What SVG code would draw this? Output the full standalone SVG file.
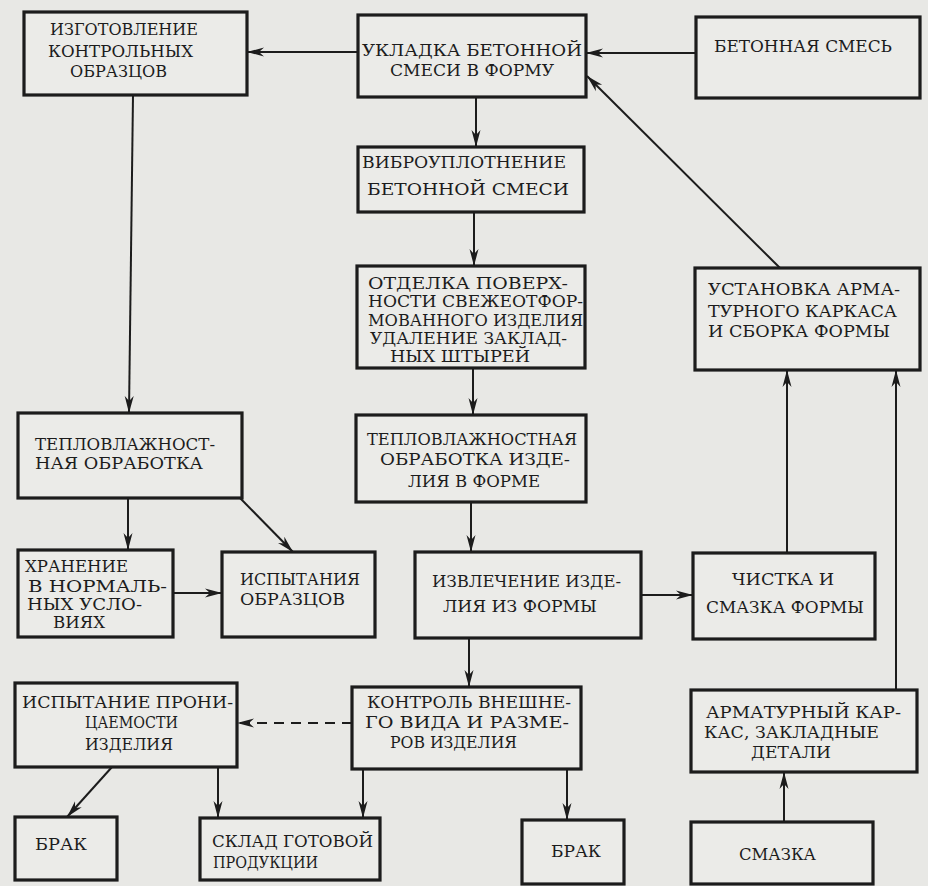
<svg xmlns="http://www.w3.org/2000/svg" width="928" height="886" viewBox="0 0 928 886">
<style>
.bg{fill:#e8e8e5}
.box{fill:#ebebe8;stroke:#1c1c1c;stroke-width:3.2}
.t{font-family:"DejaVu Serif","Liberation Serif",serif;font-size:16px;fill:#1c1c1c}
.c{fill:none;stroke:#1c1c1c;stroke-width:2}
.d{stroke-dasharray:10 7}
</style>
<defs>
<marker id="ah" markerUnits="userSpaceOnUse" markerWidth="18" markerHeight="10" refX="17" refY="5" orient="auto">
<path d="M0,0.5 L17,5 L0,9.5 L5,5 Z" fill="#1c1c1c"/>
</marker>
</defs>
<rect class="bg" x="0" y="0" width="928" height="886"/>
<g id="connectors">
<path class="c" d="M358,52 L247,52" marker-end="url(#ah)"/>
<path class="c" d="M696,53 L586,53" marker-end="url(#ah)"/>
<path class="c" d="M780,268 L587,76" marker-end="url(#ah)"/>
<path class="c" d="M476,97 L476,147" marker-end="url(#ah)"/>
<path class="c" d="M474,212 L474,266" marker-end="url(#ah)"/>
<path class="c" d="M473,368 L473,415" marker-end="url(#ah)"/>
<path class="c" d="M471,502 L471,552" marker-end="url(#ah)"/>
<path class="c" d="M133,95 L129,413" marker-end="url(#ah)"/>
<path class="c" d="M128,498 L128,550" marker-end="url(#ah)"/>
<path class="c" d="M240,498 L293,552" marker-end="url(#ah)"/>
<path class="c" d="M173,593 L222,593" marker-end="url(#ah)"/>
<path class="c" d="M641,595 L693,595" marker-end="url(#ah)"/>
<path class="c" d="M787,553 L787,370" marker-end="url(#ah)"/>
<path class="c" d="M896,690 L896,370" marker-end="url(#ah)"/>
<path class="c" d="M469,638 L469,687" marker-end="url(#ah)"/>
<path class="c d" d="M352,723 L237,723" marker-end="url(#ah)"/>
<path class="c" d="M363,769 L363,818" marker-end="url(#ah)"/>
<path class="c" d="M567,769 L567,820" marker-end="url(#ah)"/>
<path class="c" d="M112,767 L67,817" marker-end="url(#ah)"/>
<path class="c" d="M218,767 L218,818" marker-end="url(#ah)"/>
<path class="c" d="M784,822 L784,772" marker-end="url(#ah)"/>
</g>
<g id="n1"><rect class="box" x="24" y="12" width="223" height="83"/>
<text class="t" x="50" y="35" textLength="148" lengthAdjust="spacingAndGlyphs">ИЗГОТОВЛЕНИЕ</text>
<text class="t" x="48" y="57" textLength="145" lengthAdjust="spacingAndGlyphs">КОНТРОЛЬНЫХ</text>
<text class="t" x="70" y="77" textLength="97" lengthAdjust="spacingAndGlyphs">ОБРАЗЦОВ</text></g>
<g id="n2"><rect class="box" x="358" y="15" width="228" height="82"/>
<text class="t" x="362" y="56" textLength="220" lengthAdjust="spacingAndGlyphs">УКЛАДКА БЕТОННОЙ</text>
<text class="t" x="390" y="76" textLength="164" lengthAdjust="spacingAndGlyphs">СМЕСИ В ФОРМУ</text></g>
<g id="n3"><rect class="box" x="696" y="17" width="224" height="81"/>
<text class="t" x="714" y="52" textLength="178" lengthAdjust="spacingAndGlyphs">БЕТОННАЯ СМЕСЬ</text></g>
<g id="n4"><rect class="box" x="358" y="147" width="226" height="65"/>
<text class="t" x="362" y="168" textLength="204" lengthAdjust="spacingAndGlyphs">ВИБРОУПЛОТНЕНИЕ</text>
<text class="t" x="367" y="195" textLength="202" lengthAdjust="spacingAndGlyphs">БЕТОННОЙ СМЕСИ</text></g>
<g id="n5"><rect class="box" x="357" y="266" width="228" height="102"/>
<text class="t" x="368" y="289" textLength="200" lengthAdjust="spacingAndGlyphs">ОТДЕЛКА ПОВЕРХ-</text>
<text class="t" x="368" y="307" textLength="215" lengthAdjust="spacingAndGlyphs">НОСТИ СВЕЖЕОТФОР-</text>
<text class="t" x="368" y="326" textLength="215" lengthAdjust="spacingAndGlyphs">МОВАННОГО ИЗДЕЛИЯ</text>
<text class="t" x="370" y="344" textLength="197" lengthAdjust="spacingAndGlyphs">УДАЛЕНИЕ ЗАКЛАД-</text>
<text class="t" x="390" y="362" textLength="140" lengthAdjust="spacingAndGlyphs">НЫХ ШТЫРЕЙ</text></g>
<g id="n6"><rect class="box" x="356" y="415" width="230" height="87"/>
<text class="t" x="367" y="445" textLength="210" lengthAdjust="spacingAndGlyphs">ТЕПЛОВЛАЖНОСТНАЯ</text>
<text class="t" x="380" y="465" textLength="190" lengthAdjust="spacingAndGlyphs">ОБРАБОТКА ИЗДЕ-</text>
<text class="t" x="408" y="487" textLength="132" lengthAdjust="spacingAndGlyphs">ЛИЯ В ФОРМЕ</text></g>
<g id="n7"><rect class="box" x="18" y="413" width="224" height="85"/>
<text class="t" x="35" y="450" textLength="180" lengthAdjust="spacingAndGlyphs">ТЕПЛОВЛАЖНОСТ-</text>
<text class="t" x="35" y="469" textLength="168" lengthAdjust="spacingAndGlyphs">НАЯ ОБРАБОТКА</text></g>
<g id="n8"><rect class="box" x="18" y="550" width="155" height="87"/>
<text class="t" x="25" y="572" textLength="103" lengthAdjust="spacingAndGlyphs">ХРАНЕНИЕ</text>
<text class="t" x="28" y="592" textLength="139" lengthAdjust="spacingAndGlyphs">В НОРМАЛЬ-</text>
<text class="t" x="27" y="610" textLength="115" lengthAdjust="spacingAndGlyphs">НЫХ УСЛО-</text>
<text class="t" x="53" y="628" textLength="52" lengthAdjust="spacingAndGlyphs">ВИЯХ</text></g>
<g id="n9"><rect class="box" x="222" y="552" width="153" height="85"/>
<text class="t" x="240" y="585" textLength="120" lengthAdjust="spacingAndGlyphs">ИСПЫТАНИЯ</text>
<text class="t" x="240" y="605" textLength="105" lengthAdjust="spacingAndGlyphs">ОБРАЗЦОВ</text></g>
<g id="n10"><rect class="box" x="415" y="552" width="226" height="86"/>
<text class="t" x="432" y="587" textLength="189" lengthAdjust="spacingAndGlyphs">ИЗВЛЕЧЕНИЕ ИЗДЕ-</text>
<text class="t" x="443" y="612" textLength="154" lengthAdjust="spacingAndGlyphs">ЛИЯ ИЗ ФОРМЫ</text></g>
<g id="n11"><rect class="box" x="693" y="553" width="182" height="86"/>
<text class="t" x="732" y="585" textLength="102" lengthAdjust="spacingAndGlyphs">ЧИСТКА И</text>
<text class="t" x="706" y="613" textLength="158" lengthAdjust="spacingAndGlyphs">СМАЗКА ФОРМЫ</text></g>
<g id="n12"><rect class="box" x="695" y="268" width="225" height="102"/>
<text class="t" x="708" y="295" textLength="192" lengthAdjust="spacingAndGlyphs">УСТАНОВКА АРМА-</text>
<text class="t" x="708" y="317" textLength="189" lengthAdjust="spacingAndGlyphs">ТУРНОГО КАРКАСА</text>
<text class="t" x="708" y="337" textLength="182" lengthAdjust="spacingAndGlyphs">И СБОРКА ФОРМЫ</text></g>
<g id="n13"><rect class="box" x="15" y="683" width="222" height="84"/>
<text class="t" x="22" y="708" textLength="211" lengthAdjust="spacingAndGlyphs">ИСПЫТАНИЕ ПРОНИ-</text>
<text class="t" x="85" y="728" textLength="93" lengthAdjust="spacingAndGlyphs">ЦАЕМОСТИ</text>
<text class="t" x="85" y="750" textLength="88" lengthAdjust="spacingAndGlyphs">ИЗДЕЛИЯ</text></g>
<g id="n14"><rect class="box" x="352" y="687" width="229" height="82"/>
<text class="t" x="367" y="708" textLength="204" lengthAdjust="spacingAndGlyphs">КОНТРОЛЬ ВНЕШНЕ-</text>
<text class="t" x="365" y="728" textLength="204" lengthAdjust="spacingAndGlyphs">ГО ВИДА И РАЗМЕ-</text>
<text class="t" x="390" y="748" textLength="127" lengthAdjust="spacingAndGlyphs">РОВ ИЗДЕЛИЯ</text></g>
<g id="n15"><rect class="box" x="15" y="817" width="102" height="63"/>
<text class="t" x="35" y="850" textLength="52" lengthAdjust="spacingAndGlyphs">БРАК</text></g>
<g id="n16"><rect class="box" x="200" y="818" width="180" height="62"/>
<text class="t" x="212" y="847" textLength="161" lengthAdjust="spacingAndGlyphs">СКЛАД ГОТОВОЙ</text>
<text class="t" x="213" y="868" textLength="105" lengthAdjust="spacingAndGlyphs">ПРОДУКЦИИ</text></g>
<g id="n17"><rect class="box" x="522" y="820" width="102" height="64"/>
<text class="t" x="551" y="857" textLength="50" lengthAdjust="spacingAndGlyphs">БРАК</text></g>
<g id="n18"><rect class="box" x="691" y="822" width="182" height="62"/>
<text class="t" x="739" y="860" textLength="77" lengthAdjust="spacingAndGlyphs">СМАЗКА</text></g>
<g id="n19"><rect class="box" x="691" y="690" width="226" height="82"/>
<text class="t" x="706" y="718" textLength="195" lengthAdjust="spacingAndGlyphs">АРМАТУРНЫЙ КАР-</text>
<text class="t" x="704" y="738" textLength="175" lengthAdjust="spacingAndGlyphs">КАС, ЗАКЛАДНЫЕ</text>
<text class="t" x="751" y="758" textLength="80" lengthAdjust="spacingAndGlyphs">ДЕТАЛИ</text></g>
</svg>
